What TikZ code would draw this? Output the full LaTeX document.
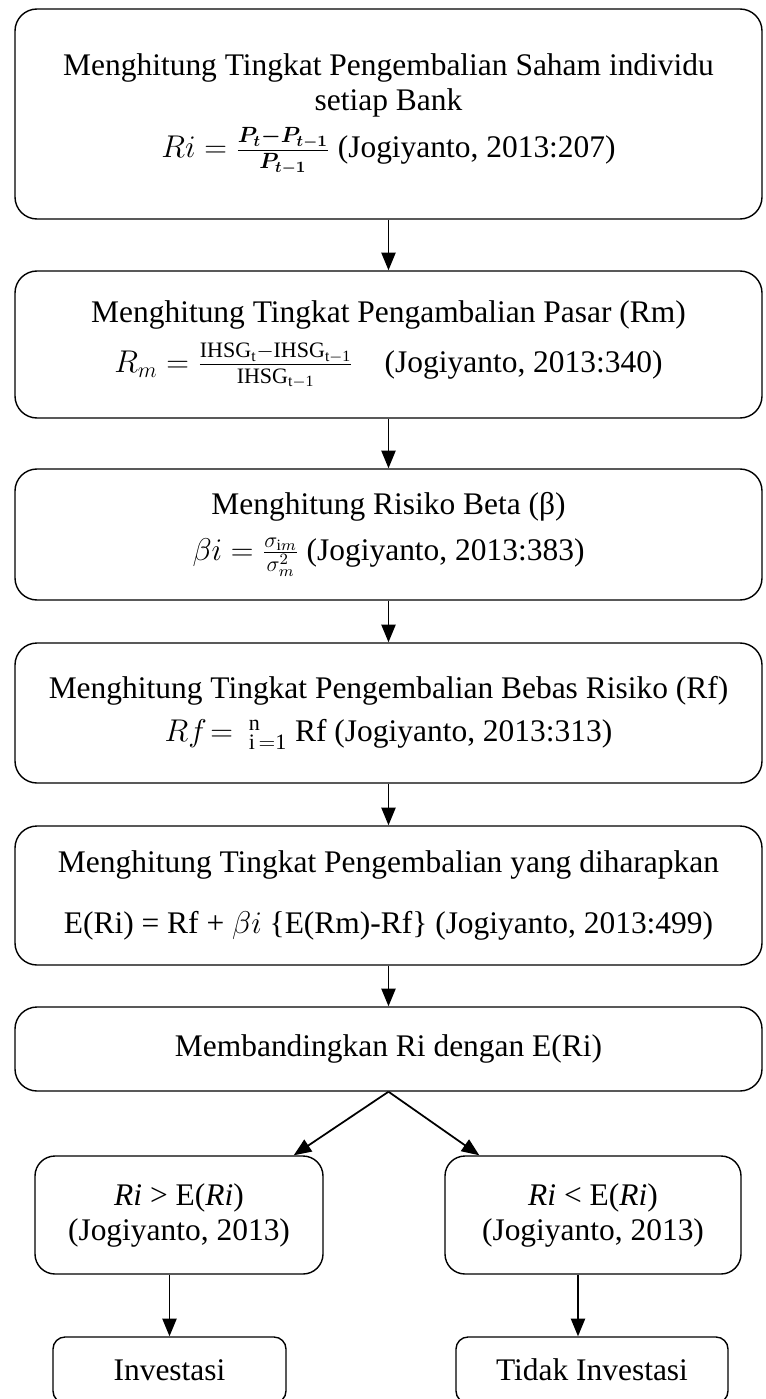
\documentclass[tikz,border=0pt]{standalone}
\usepackage{fix-cm}
\usepackage{amsmath}
\usepackage{fontspec}
\setmainfont{Liberation Serif}
\usetikzlibrary{arrows.meta}

\begin{document}
\begin{tikzpicture}[font=\fontsize{17.9}{19.9}\selectfont,>={Triangle[width=8pt,length=10pt]}]
\tikzset{calcbox/.style={draw,line width=0.8pt,rounded corners=0.44cm,minimum width=14.94cm,align=center,inner sep=0pt},
  choicebox/.style={draw,line width=0.8pt,rounded corners=0.4cm,minimum height=2.36cm,align=center,inner sep=0pt},
  endbox/.style={draw,line width=0.8pt,rounded corners=0.24cm,minimum height=1.32cm,inner sep=0pt},
  flow/.style={->,line width=1pt}}

\useasboundingbox (0,0) rectangle (15.3,-27.98);
\clip (0,0) rectangle (15.3,-27.98);

% calculation steps
\node[calcbox,minimum height=4.2cm] (ri) at (7.77,-2.28)
  {Menghitung Tingkat Pengembalian Saham individu\\
   setiap Bank\\[5pt]
   $Ri=\frac{\boldsymbol{P_t-P_{t-1}}}{\boldsymbol{P_{t-1}}}$ (Jogiyanto, 2013:207)};
\node[calcbox,minimum height=2.94cm] (rm) at (7.77,-6.89)
  {Menghitung Tingkat Pengambalian Pasar (Rm)\\[7pt]
   $R_m=\frac{\mathrm{IHSG_t-IHSG_{t-1}}}{\mathrm{IHSG_{t-1}}}$\quad(Jogiyanto, 2013:340)};
\node[calcbox,minimum height=2.62cm] (beta) at (7.77,-10.69)
  {Menghitung Risiko Beta (β)\\[6pt]
   $\beta i=\frac{\sigma_{\mathrm{i}m}}{\sigma_m^2}$\ (Jogiyanto, 2013:383)};
\node[calcbox,minimum height=2.8cm] (rf) at (7.77,-14.26)
  {Menghitung Tingkat Pengembalian Bebas Risiko (Rf)\\[5pt]
   $Rf\!=$\ \ ${}^{\mathrm{n}}_{\mathrm{i\,=1}}$\ Rf (Jogiyanto, 2013:313)};
\node[calcbox,minimum height=2.78cm] (eri) at (7.77,-17.91)
  {Menghitung Tingkat Pengembalian yang diharapkan\\[15pt]
   E(Ri) = Rf + $\beta i$ \{E(Rm)-Rf\} (Jogiyanto, 2013:499)};
\node[calcbox,minimum height=1.68cm] (cmp) at (7.77,-20.98)
  {Membandingkan Ri dengan E(Ri)};

% decision
\node[choicebox,minimum width=5.76cm] (higher) at (3.58,-24.3)
  {\textit{Ri} > E(\textit{Ri})\\(Jogiyanto, 2013)};
\node[choicebox,minimum width=5.92cm] (lower) at (11.86,-24.3)
  {\textit{Ri} < E(\textit{Ri})\\(Jogiyanto, 2013)};
\node[endbox,minimum width=4.66cm] (inv) at (3.39,-27.4) {Investasi};
\node[endbox,minimum width=5.44cm] (noinv) at (11.84,-27.4) {Tidak Investasi};

\draw[flow] (ri) -- (rm);
\draw[flow] (rm) -- (beta);
\draw[flow] (beta) -- (rf);
\draw[flow] (rf) -- (eri);
\draw[flow] (eri) -- (cmp);
\draw[flow] (cmp.south) -- ([xshift=-0.6cm]higher.north east);
\draw[flow] (cmp.south) -- ([xshift=0.7cm]lower.north west);
\coordinate (nt) at ([xshift=-0.28cm]noinv.north);
\draw[flow] (inv.north |- higher.south) -- (inv.north);
\draw[flow] (nt |- lower.south) -- (nt);
\end{tikzpicture}
\end{document}
